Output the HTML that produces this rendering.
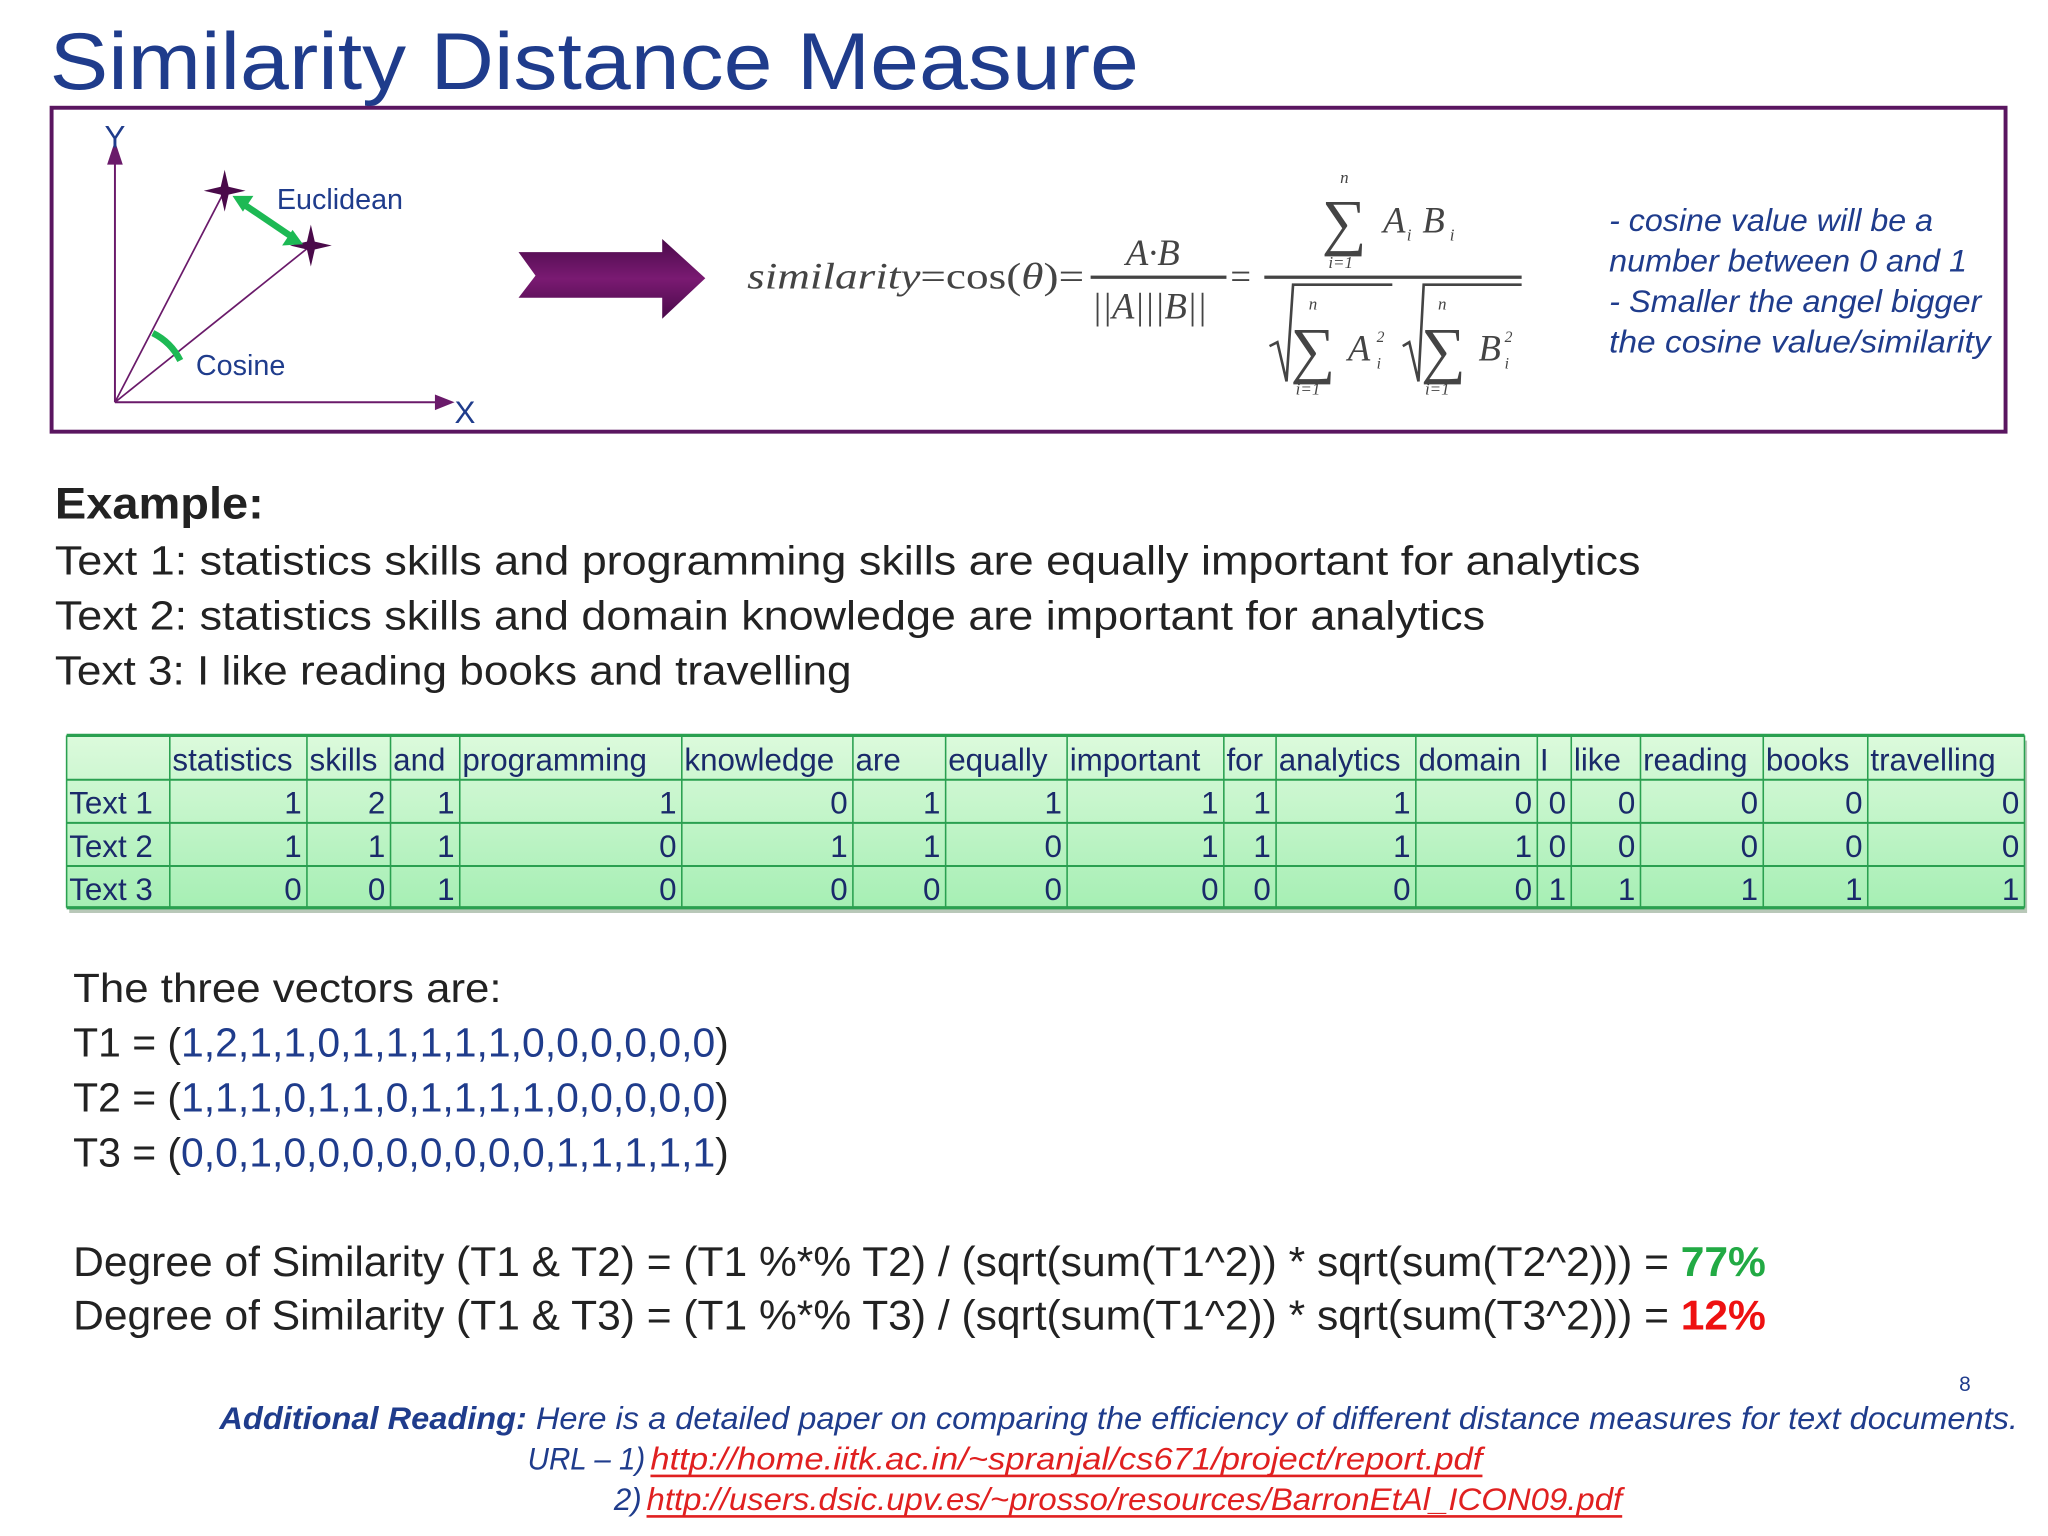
<!DOCTYPE html>
<html><head><meta charset="utf-8">
<style>
html,body{margin:0;padding:0;background:#fff;}
svg{display:block;}
text{font-family:"Liberation Sans",sans-serif;}
.ser{font-family:"Liberation Serif",serif;}
</style></head>
<body>
<svg id="slide" width="2048" height="1536" viewBox="0 0 1568 1176" xmlns="http://www.w3.org/2000/svg">
<defs>
<linearGradient id="tg" x1="0" y1="0" x2="0" y2="1">
<stop offset="0" stop-color="#dcfadc"/><stop offset="1" stop-color="#a6efb4"/>
</linearGradient>
<linearGradient id="ag" x1="0" y1="0" x2="0" y2="1">
<stop offset="0" stop-color="#4a0a4a"/><stop offset="0.5" stop-color="#7a1a72"/><stop offset="1" stop-color="#4a0a4a"/>
</linearGradient>
</defs>
<text x="38" y="68" font-size="62" fill="#1f3c8c" textLength="834" lengthAdjust="spacingAndGlyphs">Similarity Distance Measure</text>

<g>
<rect x="39.5" y="82.5" width="1496" height="248" fill="none" stroke="#5a1660" stroke-width="3"/>
</g>

<g stroke="#6a1a6a" fill="none">
<line x1="88" y1="308" x2="88" y2="118" stroke-width="1.5"/>
<polygon points="82,126 88,108 94,126" fill="#6a1a6a" stroke="none"/>
<line x1="88" y1="308" x2="338" y2="308" stroke-width="1.5"/>
<polygon points="333,302 348,308 333,314" fill="#6a1a6a" stroke="none"/>
<line x1="88" y1="308" x2="172" y2="146" stroke-width="1.3"/>
<line x1="88" y1="308" x2="238" y2="188" stroke-width="1.3"/>
<polygon points="172,130 175,143 188,146 175,149 172,162 169,149 156,146 169,143" fill="#4a0a4a" stroke="none"/>
<polygon points="238,172 241,185 254,188 241,191 238,204 235,191 222,188 235,185" fill="#4a0a4a" stroke="none"/>
<line x1="186" y1="156" x2="223" y2="181" stroke="#1db954" stroke-width="5"/>
<polygon points="178,150 194,150 186,162" fill="#1db954" stroke="none"/>
<polygon points="232,187 216,188 224,176" fill="#1db954" stroke="none"/>
<path d="M117,255 Q131,262 138,276" stroke="#1db954" stroke-width="5"/>
</g>
<text x="80" y="113" font-size="24" fill="#1f3c8c">Y</text>
<text x="348" y="324" font-size="24" fill="#1f3c8c">X</text>
<text x="212" y="160" font-size="22" fill="#1f3c8c">Euclidean</text>
<text x="150" y="287" font-size="22" fill="#1f3c8c">Cosine</text>

<polygon points="397,193 507,193 507,183 540,213 507,244 507,228 397,228 410,211" fill="url(#ag)"/>

<g fill="#444">
<text class="ser" x="572" y="221" font-size="28" textLength="258" lengthAdjust="spacingAndGlyphs"><tspan font-style="italic">similarity</tspan>=cos(<tspan font-style="italic">θ</tspan>)=</text>
<text class="ser" x="862" y="203" font-size="28" font-style="italic">A·B</text>
<rect x="835" y="211" width="104" height="2.5"/>
<text class="ser" x="836" y="244" font-size="28" font-style="italic">||A|||B||</text>
<text class="ser" x="942" y="221" font-size="28">=</text>
<rect x="968" y="211" width="197" height="2.5"/>
<text class="ser" x="1026" y="140" font-size="13" font-style="italic">n</text>
<text class="ser" x="1012" y="186" font-size="48">∑</text>
<text class="ser" x="1059" y="178" font-size="28" font-style="italic">A</text>
<text class="ser" x="1077" y="184" font-size="13" font-style="italic">i</text>
<text class="ser" x="1089" y="178" font-size="28" font-style="italic">B</text>
<text class="ser" x="1110" y="184" font-size="13" font-style="italic">i</text>
<text class="ser" x="1017" y="205" font-size="13" font-style="italic">i=1</text>
<path d="M972,265 L978,262 L985,292 L990,218 L1066,218 M1074,265 L1079,262 L1086,292 L1090,218 L1165,218" stroke="#444" stroke-width="2" fill="none"/>
<text class="ser" x="1002" y="237" font-size="13" font-style="italic">n</text>
<text class="ser" x="988" y="284" font-size="48">∑</text>
<text class="ser" x="1032" y="276" font-size="28" font-style="italic">A</text>
<text class="ser" x="1054" y="262" font-size="12" font-style="italic">2</text>
<text class="ser" x="1054" y="282" font-size="12" font-style="italic">i</text>
<text class="ser" x="992" y="302" font-size="13" font-style="italic">i=1</text>
<text class="ser" x="1101" y="237" font-size="13" font-style="italic">n</text>
<text class="ser" x="1088" y="284" font-size="48">∑</text>
<text class="ser" x="1132" y="276" font-size="28" font-style="italic">B</text>
<text class="ser" x="1152" y="262" font-size="12" font-style="italic">2</text>
<text class="ser" x="1152" y="282" font-size="12" font-style="italic">i</text>
<text class="ser" x="1091" y="302" font-size="13" font-style="italic">i=1</text>
</g>

<g fill="#1f3c8c" font-size="24" font-style="italic">
<text x="1232" y="177" textLength="248" lengthAdjust="spacingAndGlyphs">- cosine value will be a</text>
<text x="1232" y="208" textLength="274" lengthAdjust="spacingAndGlyphs">number between 0 and 1</text>
<text x="1232" y="239" textLength="285" lengthAdjust="spacingAndGlyphs">- Smaller the angel bigger</text>
<text x="1232" y="270" textLength="292" lengthAdjust="spacingAndGlyphs">the cosine value/similarity</text>
</g>

<text x="42" y="397" font-size="34" font-weight="bold" fill="#222" textLength="160" lengthAdjust="spacingAndGlyphs">Example:</text>
<g fill="#222" font-size="31">
<text x="42" y="440" textLength="1214" lengthAdjust="spacingAndGlyphs">Text 1: statistics skills and programming skills are equally important for analytics</text>
<text x="42" y="482" textLength="1095" lengthAdjust="spacingAndGlyphs">Text 2: statistics skills and domain knowledge are important for analytics</text>
<text x="42" y="524" textLength="610" lengthAdjust="spacingAndGlyphs">Text 3: I like reading books and travelling</text>
</g>

<g id="tbl"></g>

<g font-size="31" fill="#222">
<text x="56" y="767" textLength="328" lengthAdjust="spacingAndGlyphs">The three vectors are:</text>
<text x="56" y="809" textLength="502" lengthAdjust="spacingAndGlyphs">T1 = (<tspan fill="#1f3c8c">1,2,1,1,0,1,1,1,1,1,0,0,0,0,0,0</tspan>)</text>
<text x="56" y="851" textLength="502" lengthAdjust="spacingAndGlyphs">T2 = (<tspan fill="#1f3c8c">1,1,1,0,1,1,0,1,1,1,1,0,0,0,0,0</tspan>)</text>
<text x="56" y="893" textLength="502" lengthAdjust="spacingAndGlyphs">T3 = (<tspan fill="#1f3c8c">0,0,1,0,0,0,0,0,0,0,0,1,1,1,1,1</tspan>)</text>
</g>
<g font-size="32" fill="#222">
<text x="56" y="977" textLength="1296" lengthAdjust="spacingAndGlyphs">Degree of Similarity (T1 &amp; T2) = (T1 %*% T2) / (sqrt(sum(T1^2)) * sqrt(sum(T2^2))) = <tspan fill="#22aa44" font-weight="bold">77%</tspan></text>
<text x="56" y="1018" textLength="1296" lengthAdjust="spacingAndGlyphs">Degree of Similarity (T1 &amp; T3) = (T1 %*% T3) / (sqrt(sum(T1^2)) * sqrt(sum(T3^2))) = <tspan fill="#ee1111" font-weight="bold">12%</tspan></text>
</g>

<text x="1500" y="1065" font-size="16" fill="#1f3c8c">8</text>
<g font-size="24" font-style="italic" fill="#1f3c8c">
<text x="168" y="1094" textLength="1377" lengthAdjust="spacingAndGlyphs"><tspan font-weight="bold">Additional Reading:</tspan> Here is a detailed paper on comparing the efficiency of different distance measures for text documents.</text>
<text x="404" y="1125" textLength="90" lengthAdjust="spacingAndGlyphs">URL – 1)</text>
<text x="470" y="1156">2)</text>
</g>
<text x="498" y="1125" font-size="24" font-style="italic" fill="#e02020" textLength="637" lengthAdjust="spacingAndGlyphs">http://home.iitk.ac.in/~spranjal/cs671/project/report.pdf</text>
<rect x="498" y="1129" width="637" height="2" fill="#e02020"/>
<text x="495" y="1156" font-size="24" font-style="italic" fill="#e02020" textLength="747" lengthAdjust="spacingAndGlyphs">http://users.dsic.upv.es/~prosso/resources/BarronEtAl_ICON09.pdf</text>
<rect x="495" y="1160" width="747" height="2" fill="#e02020"/>
</svg>
<script>
const words = ["statistics","skills","and","programming","knowledge","are","equally","important","for","analytics","domain","I","like","reading","books","travelling"];
const rowLabels = ["Text 1","Text 2","Text 3"];
const text1 = [1,2,1,1,0,1,1,1,1,1,0,0,0,0,0,0];
const text2 = [1,1,1,0,1,1,0,1,1,1,1,0,0,0,0,0];
const text3 = [0,0,1,0,0,0,0,0,0,0,0,1,1,1,1,1];
const colEdges = [51,130,235,299,352,522,653,724,817,937,977,1084,1177,1203,1256,1350,1430,1550];
const rowEdges = [563,597,630,663,695];
(function(){
  const NS="http://www.w3.org/2000/svg";
  const g=document.getElementById('tbl');
  const rows=[text1,text2,text3];
  function mk(tag,attrs){const e=document.createElementNS(NS,tag);for(const k in attrs)e.setAttribute(k,attrs[k]);g.appendChild(e);return e;}
  const x0=colEdges[0],x1=colEdges[colEdges.length-1],y0=rowEdges[0],y1=rowEdges[rowEdges.length-1];
  const sh=mk('rect',{x:x0+2,y:y0+4,width:x1-x0,height:y1-y0,fill:'#b8c8b8'});
  
  
  const bg=mk('rect',{x:x0,y:y0,width:x1-x0,height:y1-y0,fill:'url(#tg)'});
  
  
  colEdges.forEach(function(x){const l=mk('line',{x1:x,y1:y0,x2:x,y2:y1,stroke:'#2aa050','stroke-width':1.2});
    
    });
  rowEdges.forEach(function(y,i){const l=mk('line',{x1:x0,y1:y,x2:x1,y2:y,stroke:'#2aa050','stroke-width':(i==0||i==rowEdges.length-1)?2.5:1.5});
    
    });
  words.forEach(function(w,i){
    const t=mk('text',{x:colEdges[i+1]+2,y:y0+27,'font-size':24,fill:'#1a2a6a'});
    
    
    t.textContent=w;
    const avail=colEdges[i+2]-colEdges[i+1]-3;
    if(t.getComputedTextLength()>avail){t.setAttribute('textLength',avail);t.setAttribute('lengthAdjust','spacingAndGlyphs');}
  });
  rowLabels.forEach(function(lab,r){
    const yb=rowEdges[r+1]+26;
    const t=mk('text',{x:x0+2,y:yb,'font-size':24,fill:'#1a2a6a'});
    
    
    t.textContent=lab;
    rows[r].forEach(function(v,c){
      const tv=mk('text',{x:colEdges[c+2]-4,y:yb,'font-size':24,fill:'#1a2a6a','text-anchor':'end'});
      
      
      tv.textContent=v;
    });
  });
})();
</script>
</body></html>
